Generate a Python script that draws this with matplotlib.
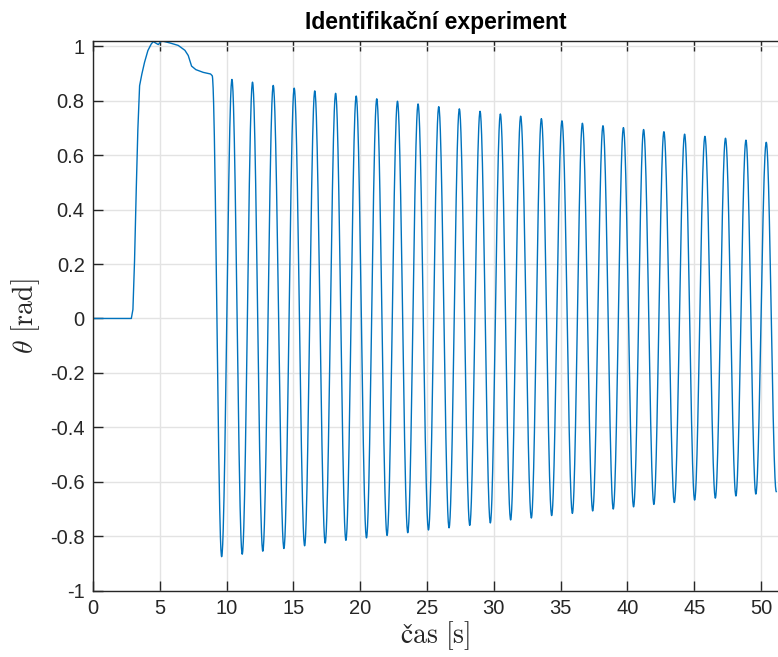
import numpy as np
import matplotlib
matplotlib.use('Agg')
import matplotlib.pyplot as plt

# --------------------------
# data: start-up transient (time [s], angle [rad])
# --------------------------
t_start = [0.0, 2.87, 2.99, 3.11, 3.24, 3.36, 3.49, 3.66, 3.86, 4.11, 4.36,
           4.51, 4.61, 4.89, 5.13, 5.76, 6.38, 6.88, 7.13, 7.38, 7.70, 8.25,
           8.80, 8.92]
th_start = [0.0, 0.0, 0.033, 0.21, 0.475, 0.695, 0.855, 0.898, 0.941, 0.984,
            1.008, 1.017, 1.014, 1.006, 1.02, 1.012, 1.003, 0.985, 0.966,
            0.927, 0.914, 0.904, 0.898, 0.892]

# oscillation: minima and maxima of the free swing
t_min = [9.63, 11.17, 12.71, 14.29, 15.84, 17.38, 18.93, 20.47, 22.01, 23.56,
         25.11, 26.65, 28.20, 29.74, 31.26, 32.81, 34.33, 35.88, 37.40, 38.94,
         40.46, 41.98, 43.51, 45.03, 46.58, 48.12, 49.61, 51.14]
th_min = [-0.875, -0.866, -0.855, -0.845, -0.835, -0.825, -0.815, -0.806,
          -0.797, -0.787, -0.777, -0.769, -0.760, -0.751, -0.740, -0.733,
          -0.724, -0.716, -0.707, -0.700, -0.692, -0.683, -0.676, -0.667,
          -0.660, -0.652, -0.645, -0.636]
t_max = [10.40, 11.94, 13.49, 15.06, 16.60, 18.16, 19.70, 21.24, 22.79, 24.33,
         25.88, 27.42, 28.97, 30.49, 32.01, 33.56, 35.10, 36.63, 38.17, 39.70,
         41.21, 42.73, 44.28, 45.80, 47.34, 48.87, 50.39]
th_max = [0.878, 0.868, 0.856, 0.846, 0.836, 0.827, 0.817, 0.807, 0.798,
          0.788, 0.778, 0.770, 0.761, 0.751, 0.743, 0.734, 0.726, 0.717,
          0.708, 0.701, 0.694, 0.686, 0.677, 0.669, 0.662, 0.655, 0.647]

y_ticks = [-1, -0.8, -0.6, -0.4, -0.2, 0, 0.2, 0.4, 0.6, 0.8, 1]
y_ticklabels = ['-1', '-0.8', '-0.6', '-0.4', '-0.2', '0', '0.2', '0.4',
                '0.6', '0.8', '1']
x_ticks = [0, 5, 10, 15, 20, 25, 30, 35, 40, 45, 50]

# --------------------------
# join the extrema with half-cosine arcs
# --------------------------
ext_t = [t_start[-1]]
ext_y = [th_start[-1]]
for i in range(len(t_min)):
    ext_t.append(t_min[i]); ext_y.append(th_min[i])
    if i < len(t_max):
        ext_t.append(t_max[i]); ext_y.append(th_max[i])

t_all = list(t_start)
th_all = list(th_start)
s = np.linspace(0, 1, 40)[1:]
for k in range(len(ext_t) - 1):
    t0, t1 = ext_t[k], ext_t[k + 1]
    y0, y1 = ext_y[k], ext_y[k + 1]
    t_all.extend(t0 + (t1 - t0) * s)
    th_all.extend(y0 + (y1 - y0) * (1 - np.cos(np.pi * s)) / 2)

# --------------------------
# plot
# --------------------------
plt.rcParams['font.family'] = ['Liberation Sans', 'DejaVu Sans']
plt.rcParams['mathtext.fontset'] = 'cm'

fig = plt.figure(figsize=(7.78, 6.57), dpi=100)
ax = fig.add_axes([0.1195, 0.1009, 0.8805, 0.8362])

ax.plot(t_all, th_all, color='#0072BD', lw=1.0)

ax.set_xlim(0, 51.27)
ax.set_ylim(-1, 1.018)
ax.set_xticks(x_ticks)
ax.set_yticks(y_ticks)
ax.set_yticklabels(y_ticklabels)

ax.grid(True, color='#e3e3e3', lw=1.0)
ax.set_axisbelow(True)
for side in ['left', 'bottom', 'top']:
    ax.spines[side].set_color('#262626')
    ax.spines[side].set_linewidth(1.0)
ax.spines['right'].set_visible(False)
ax.tick_params(direction='in', length=7, width=1.0, color='#262626',
               labelcolor='#262626', labelsize=14.5, top=True, pad=6)

ax.set_title('Identifikační experiment', fontsize=16.5, fontweight='bold',
             color='black', pad=9)
ax.set_xlabel(r'$\mathrm{čas\ [s]}$', fontsize=20, color='#262626',
              labelpad=1)
ax.set_ylabel(r'$\theta\ [\mathrm{rad}]$', fontsize=20, color='#262626',
              labelpad=6)

fig.savefig('out.png', dpi=100)
